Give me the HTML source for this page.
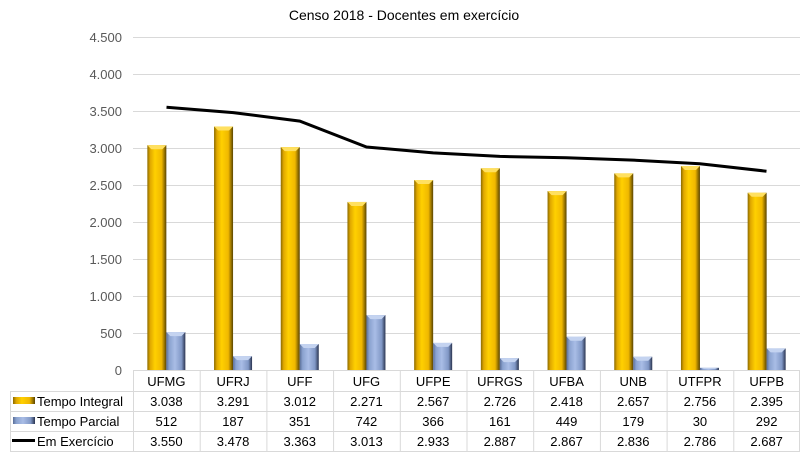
<!DOCTYPE html>
<html><head><meta charset="utf-8"><style>
body{margin:0;background:#fff;}
svg text{font-family:"Liberation Sans",sans-serif;}
</style></head><body>
<svg width="808" height="460" xmlns="http://www.w3.org/2000/svg">
<defs>
<linearGradient id="g" x1="0" x2="1"><stop offset="0" stop-color="#8a6a00"/><stop offset="0.15" stop-color="#e0a800"/><stop offset="0.4" stop-color="#ffd000"/><stop offset="0.75" stop-color="#f0b800"/><stop offset="1" stop-color="#5a4400"/></linearGradient>
<linearGradient id="b" x1="0" x2="1"><stop offset="0" stop-color="#5a6e98"/><stop offset="0.15" stop-color="#8aa2cf"/><stop offset="0.45" stop-color="#a9bde6"/><stop offset="0.8" stop-color="#8198c6"/><stop offset="1" stop-color="#2a3450"/></linearGradient>
</defs>
<text x="404" y="20" font-size="14" text-anchor="middle" fill="#000">Censo 2018 - Docentes em exercício</text>
<g stroke="#d9d9d9" stroke-width="1">
<line x1="133" x2="800" y1="37.5" y2="37.5"/><line x1="133" x2="800" y1="74.5" y2="74.5"/><line x1="133" x2="800" y1="111.5" y2="111.5"/><line x1="133" x2="800" y1="148.5" y2="148.5"/><line x1="133" x2="800" y1="185.5" y2="185.5"/><line x1="133" x2="800" y1="222.5" y2="222.5"/><line x1="133" x2="800" y1="259.5" y2="259.5"/><line x1="133" x2="800" y1="296.5" y2="296.5"/><line x1="133" x2="800" y1="333.5" y2="333.5"/>
</g>
<g font-size="13" fill="#595959" text-anchor="end">
<text x="122" y="42">4.500</text><text x="122" y="79">4.000</text><text x="122" y="116">3.500</text><text x="122" y="153">3.000</text><text x="122" y="190">2.500</text><text x="122" y="227">2.000</text><text x="122" y="264">1.500</text><text x="122" y="301">1.000</text><text x="122" y="338">500</text><text x="122" y="375">0</text>
</g>
<g id="bars"></g>
<polyline fill="none" stroke="#000" stroke-width="3" points="166.5,107.3 233.2,112.6 299.8,121.1 366.5,147.0 433.2,152.9 499.8,156.4 566.5,157.8 633.2,160.1 699.8,163.8 766.5,171.2"/>
<g stroke="#d9d9d9" stroke-width="1" fill="none">
<line x1="133" x2="800" y1="370.5" y2="370.5"/>
<line x1="10" x2="800" y1="391.5" y2="391.5"/><line x1="10" x2="800" y1="411.5" y2="411.5"/><line x1="10" x2="800" y1="431.5" y2="431.5"/><line x1="10" x2="800" y1="451.5" y2="451.5"/>
<line x1="10.5" x2="10.5" y1="391" y2="451"/>
</g>
<g id="tbl"></g>
<rect x="13" y="397" width="22" height="7" fill="url(#g)"/>
<rect x="13" y="417" width="22" height="7" fill="url(#b)"/>
<line x1="12" x2="35" y1="440.5" y2="440.5" stroke="#000" stroke-width="3"/>
<g font-size="13" fill="#000"><text x="37" y="406">Tempo Integral</text><text x="37" y="426">Tempo Parcial</text><text x="37" y="446">Em Exercício</text></g>
<script>
var names=["UFMG","UFRJ","UFF","UFG","UFPE","UFRGS","UFBA","UNB","UTFPR","UFPB"];
var ti=[3038,3291,3012,2271,2567,2726,2418,2657,2756,2395];
var tp=[512,187,351,742,366,161,449,179,30,292];
var ex=["3.550","3.478","3.363","3.013","2.933","2.887","2.867","2.836","2.786","2.687"];
var fmt=function(v){return v>=1000?Math.floor(v/1000)+"."+String(v%1000).padStart(3,"0"):String(v);};
var ns="http://www.w3.org/2000/svg",B=document.getElementById("bars"),T=document.getElementById("tbl");
function el(p,t,a,txt){var e=document.createElementNS(ns,t);for(var k in a)e.setAttribute(k,a[k]);if(txt)e.textContent=txt;p.appendChild(e);return e;}
for(var i=0;i<10;i++){
 var c=133+66.7*i+33.35;
 var h1=ti[i]*37/500,h2=tp[i]*37/500;
 el(B,"rect",{x:c-19,y:370-h1,width:19,height:h1,fill:"url(#g)"});
 el(B,"polygon",{points:(c-19)+","+(370-h1)+" "+c+","+(370-h1)+" "+(c-4)+","+(370-h1+4)+" "+(c-15)+","+(370-h1+4),fill:"#ffe060"});
 el(B,"rect",{x:c,y:370-h2,width:19,height:h2,fill:"url(#b)"});
 el(B,"polygon",{points:c+","+(370-h2)+" "+(c+19)+","+(370-h2)+" "+(c+15)+","+(370-h2+Math.min(4,h2/2))+" "+(c+4)+","+(370-h2+Math.min(4,h2/2)),fill:"#c4d3f0"});
 var x0=133+66.7*i;
 el(T,"line",{x1:x0+0.5,x2:x0+0.5,y1:370,y2:451,stroke:"#d9d9d9"});
 el(T,"text",{x:c,y:386,"font-size":13,"text-anchor":"middle"},names[i]);
 el(T,"text",{x:c,y:406,"font-size":13,"text-anchor":"middle"},fmt(ti[i]));
 el(T,"text",{x:c,y:426,"font-size":13,"text-anchor":"middle"},fmt(tp[i]));
 el(T,"text",{x:c,y:446,"font-size":13,"text-anchor":"middle"},ex[i]);
}
el(T,"line",{x1:799.5,x2:799.5,y1:370,y2:451,stroke:"#d9d9d9"});
</script>
</svg>
</body></html>
